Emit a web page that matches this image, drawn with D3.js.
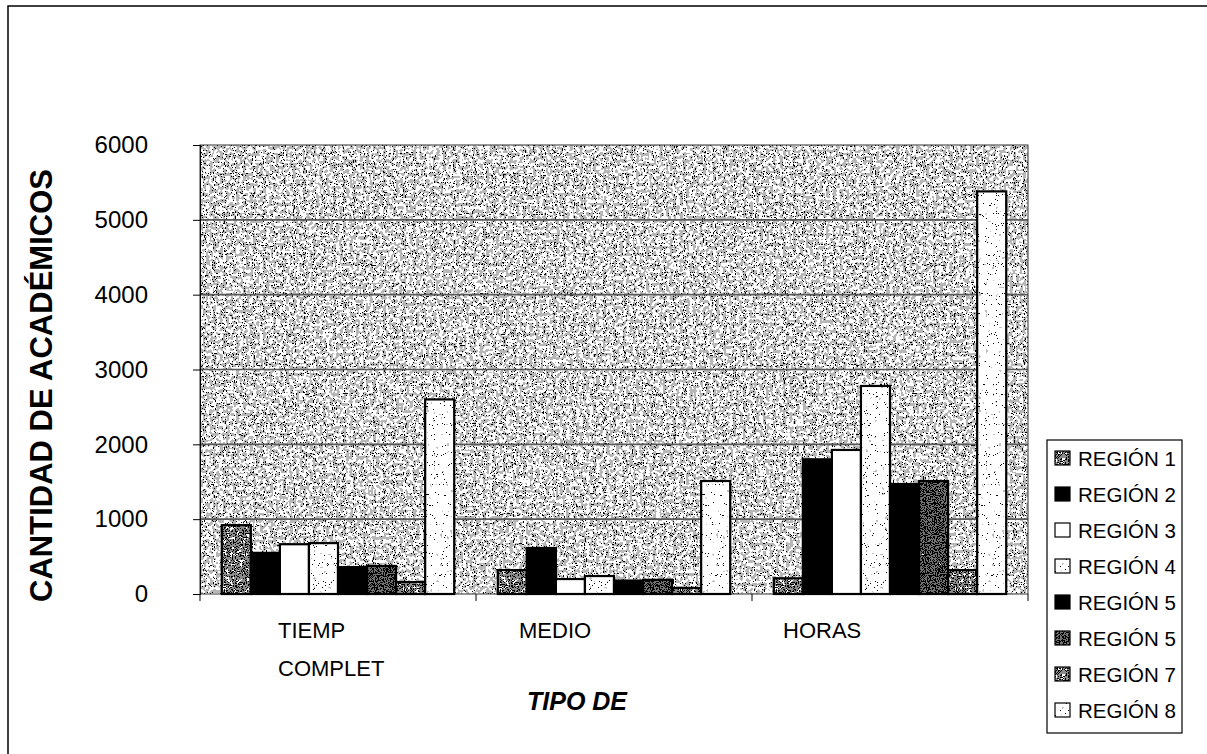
<!DOCTYPE html>
<html>
<head>
<meta charset="utf-8">
<script src="https://d3js.org/d3.v7.min.js"></script>
<style>
  body { margin: 0; background: #fff; }
  text { font-family: "Liberation Sans", Arial, sans-serif; fill: #000; }
</style>
</head>
<body>
<div id="chart"></div>
<script>
// ---- data ----
var categories = ["TIEMP COMPLET", "MEDIO", "HORAS"];
var categoryLines = [["TIEMP", "COMPLET"], ["MEDIO"], ["HORAS"]];
var seriesKeys = ["r1", "r2", "r3", "r4", "r5", "r6", "r7", "r8"];
var seriesLabels = ["REGIÓN 1", "REGIÓN 2", "REGIÓN 3", "REGIÓN 4", "REGIÓN 5", "REGIÓN 5", "REGIÓN 7", "REGIÓN 8"];
var tiempoValues = [920, 550, 665, 680, 360, 375, 160, 2600];
var medioValues = [320, 615, 200, 240, 180, 190, 80, 1510];
var horasValues = [210, 1800, 1925, 2780, 1470, 1510, 320, 5380];
var yTicks = [0, 1000, 2000, 3000, 4000, 5000, 6000];

var valuesByCat = [tiempoValues, medioValues, horasValues];

// fill look for each series (texture name or solid colour)
var seriesFill = ["mid", "#000", "#fff", "light", "#000", "dark", "mid", "light"];

var W = 1207, H = 754;
var margin = { left: 200, right: 179, top: 145, bottom: 160 };

var svg = d3.select("#chart").append("svg")
    .attr("width", W)
    .attr("height", H);

var defs = svg.append("defs");

// speckled scan-like textures
function speckTable(thrBlack, thrGray, grayVal) {
    var t = [];
    for (var i = 0; i < 20; i++) {
        var v = (i + 0.5) / 20;
        t.push(v < thrBlack ? 0 : (v < thrGray ? grayVal : 1));
    }
    return t.join(" ");
}
function addLayer(f, freq, seed, table, name) {
    f.append("feTurbulence").attr("type", "fractalNoise")
        .attr("baseFrequency", freq).attr("numOctaves", 1).attr("seed", seed).attr("result", name + "n");
    f.append("feColorMatrix").attr("in", name + "n").attr("type", "matrix")
        .attr("values", "1 0 0 0 0  1 0 0 0 0  1 0 0 0 0  0 0 0 0 1").attr("result", name + "g");
    var ct = f.append("feComponentTransfer").attr("in", name + "g").attr("result", name);
    ["feFuncR", "feFuncG", "feFuncB"].forEach(function (fn) {
        ct.append(fn).attr("type", "discrete").attr("tableValues", table);
    });
}
// fine black specks over soft grey clumps
function makeSpeckle(id, seed, speck, clump) {
    var f = defs.append("filter").attr("id", id)
        .attr("x", 0).attr("y", 0).attr("width", 1).attr("height", 1)
        .attr("color-interpolation-filters", "sRGB");
    addLayer(f, 0.9, seed, speckTable(speck, speck, 0), "a");
    addLayer(f, 0.3, seed + 1, speckTable(clump[0], clump[1], clump[2]), "b");
    f.append("feBlend").attr("in", "a").attr("in2", "b").attr("mode", "darken").attr("result", "c");
    f.append("feComposite").attr("in", "c").attr("in2", "SourceGraphic").attr("operator", "in");
}
makeSpeckle("bg", 3, 0.37, [0.0, 0.5, 0.72]);
makeSpeckle("light", 7, 0.29, [0.0, 0.3, 0.75]);
makeSpeckle("mid", 11, 0.45, [0.0, 0.62, 0.55]);
makeSpeckle("dark", 15, 0.5, [0.0, 0.75, 0.45]);

var x0 = d3.scaleBand()
    .domain(categories)
    .range([margin.left, W - margin.right])
    .padding(0);

var x1 = d3.scaleBand()
    .domain(seriesKeys)
    .range([0, x0.bandwidth()])
    .paddingInner(0)
    .paddingOuter(0.75);

var y = d3.scaleLinear()
    .domain([0, 6000])
    .range([H - margin.bottom, margin.top]);

var plotW = W - margin.right - margin.left;
var plotH = y(0) - y(6000);

// outer frame (scan shows only top and left edges)
svg.append("path")
    .attr("d", "M8," + H + " L8,6 L" + W + ",6")
    .attr("fill", "none")
    .attr("stroke", "#000")
    .attr("stroke-width", 1.5);

// plot background
svg.append("rect")
    .attr("x", margin.left).attr("y", y(6000))
    .attr("width", plotW).attr("height", plotH)
    .attr("fill", "#888")
    .attr("filter", "url(#bg)");

// gridlines
svg.append("g")
    .selectAll("line")
    .data(yTicks.filter(function (d) { return d > 0 && d < 6000; }))
    .enter().append("line")
    .attr("x1", margin.left).attr("x2", W - margin.right)
    .attr("y1", function (d) { return y(d); })
    .attr("y2", function (d) { return y(d); })
    .attr("stroke", "#5a5a5a")
    .attr("stroke-width", 1.6);

// plot border
svg.append("rect")
    .attr("x", margin.left).attr("y", y(6000))
    .attr("width", plotW).attr("height", plotH)
    .attr("fill", "none")
    .attr("stroke", "#333")
    .attr("stroke-width", 1);

// bars
var groups = svg.append("g").selectAll("g")
    .data(categories)
    .enter().append("g")
    .attr("transform", function (d) { return "translate(" + x0(d) + ",0)"; });

var bars = groups.selectAll("g")
    .data(function (d, i) {
        return seriesKeys.map(function (k, j) { return { key: k, idx: j, value: valuesByCat[i][j] }; });
    })
    .enter().append("g");

bars.append("rect")
    .attr("x", function (d) { return x1(d.key); })
    .attr("y", function (d) { return y(d.value); })
    .attr("width", x1.bandwidth())
    .attr("height", function (d) { return y(0) - y(d.value); })
    .attr("fill", function (d) {
        var f = seriesFill[d.idx];
        return f.charAt(0) === "#" ? f : "#888";
    })
    .attr("filter", function (d) {
        var f = seriesFill[d.idx];
        return f.charAt(0) === "#" ? null : "url(#" + f + ")";
    });

bars.append("rect")
    .attr("x", function (d) { return x1(d.key); })
    .attr("y", function (d) { return y(d.value); })
    .attr("width", x1.bandwidth())
    .attr("height", function (d) { return y(0) - y(d.value); })
    .attr("fill", "none")
    .attr("stroke", "#000")
    .attr("stroke-width", 2.2);

// y axis
var yAxis = svg.append("g")
    .attr("transform", "translate(" + margin.left + ",0)")
    .call(d3.axisLeft(y).tickValues(yTicks).tickSize(7).tickPadding(45).tickFormat(d3.format("d")));
yAxis.select(".domain").attr("stroke", "#000");
yAxis.selectAll(".tick line").attr("stroke", "#000");
yAxis.selectAll(".tick text")
    .style("font-family", "'Liberation Sans', Arial, sans-serif")
    .style("font-size", "24px")
    .attr("fill", "#000");

// x axis: ticks on category boundaries
var xBound = categories.map(function (c) { return x0(c); }).concat([W - margin.right]);
svg.append("g").selectAll("line")
    .data(xBound)
    .enter().append("line")
    .attr("x1", function (d) { return d; }).attr("x2", function (d) { return d; })
    .attr("y1", y(0)).attr("y2", y(0) + 7)
    .attr("stroke", "#000");

// category labels (left aligned as in the scan)
var labelShift = [78, 43, 31];
svg.append("g").selectAll("text")
    .data(categories)
    .enter().append("text")
    .attr("x", function (d, i) { return x0(d) + labelShift[i]; })
    .attr("y", y(0) + 44)
    .style("font-size", "22px")
    .each(function (d, i) {
        var t = d3.select(this);
        categoryLines[i].forEach(function (line, k) {
            t.append("tspan")
                .attr("x", x0(d) + labelShift[i])
                .attr("dy", k === 0 ? 0 : 38)
                .text(line);
        });
    });

// axis titles
svg.append("text")
    .attr("transform", "translate(52," + ((y(0) + y(6000)) / 2 + 16) + ") rotate(-90)")
    .attr("text-anchor", "middle")
    .style("font-size", "31px")
    .style("font-weight", "bold")
    .text("CANTIDAD DE ACADÉMICOS");

svg.append("text")
    .attr("x", 577)
    .attr("y", 710)
    .attr("text-anchor", "middle")
    .style("font-size", "25px")
    .style("font-weight", "bold")
    .style("font-style", "italic")
    .text("TIPO DE");

// legend
var lgX = 1047, lgY = 440, lgW = 135, lgH = 293, rowH = 36;
svg.append("rect")
    .attr("x", lgX).attr("y", lgY)
    .attr("width", lgW).attr("height", lgH)
    .attr("fill", "#fff")
    .attr("stroke", "#000")
    .attr("stroke-width", 1.2);

var items = svg.append("g").selectAll("g")
    .data(seriesLabels)
    .enter().append("g")
    .attr("transform", function (d, i) { return "translate(" + (lgX + 8) + "," + (lgY + 18 + i * rowH) + ")"; });

items.append("rect")
    .attr("x", 0).attr("y", -7).attr("width", 15).attr("height", 14)
    .attr("fill", function (d, i) { var f = seriesFill[i]; return f.charAt(0) === "#" ? f : "#888"; })
    .attr("filter", function (d, i) { var f = seriesFill[i]; return f.charAt(0) === "#" ? null : "url(#" + f + ")"; });
items.append("rect")
    .attr("x", 0).attr("y", -7).attr("width", 15).attr("height", 14)
    .attr("fill", "none").attr("stroke", "#000").attr("stroke-width", 1.2);

items.append("text")
    .attr("x", 23)
    .attr("y", 8)
    .style("font-size", "20.5px")
    .text(function (d) { return d; });
</script>
</body>
</html>
